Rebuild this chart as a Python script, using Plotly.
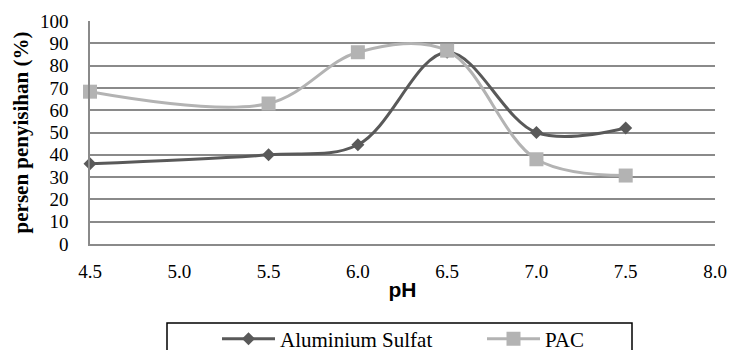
import plotly.graph_objects as go

ph = [4.5, 5.5, 6.0, 6.5, 7.0, 7.5]
aluminium_sulfat = [36, 40, 44.5, 86, 50, 52]
pac = [68.3, 63, 86, 86.7, 38, 30.7]
series_names = ["Aluminium Sulfat", "PAC"]
x_ticks = [4.5, 5.0, 5.5, 6.0, 6.5, 7.0, 7.5, 8.0]
y_ticks = list(range(0, 101, 10))

SERIF = "'Times New Roman', 'Liberation Serif', 'DejaVu Serif', serif"
SANS = "Arial, 'Liberation Sans', sans-serif"

fig = go.Figure()
fig.add_trace(go.Scatter(
    x=ph, y=aluminium_sulfat, name=series_names[0], mode="lines+markers",
    line=dict(color="#595959", width=3, shape="spline", smoothing=1),
    marker=dict(symbol="diamond", size=10, color="#595959"),
    cliponaxis=False, legend="legend",
))
fig.add_trace(go.Scatter(
    x=ph, y=pac, name=series_names[1], mode="lines+markers",
    line=dict(color="#b3b3b3", width=3, shape="spline", smoothing=1),
    marker=dict(symbol="square", size=14, color="#b3b3b3"),
    cliponaxis=False, legend="legend2",
))

grid = "#8a8a8a"
leg_common = dict(
    orientation="h", xref="container", yref="container",
    xanchor="left", yanchor="middle", y=1 - 339 / 350,
    font=dict(family=SERIF, size=21, color="black"),
    bgcolor="rgba(0,0,0,0)", borderwidth=0, itemwidth=53,
)
fig.update_layout(
    width=729, height=350,
    margin=dict(l=90, r=14, t=21, b=106, autoexpand=False),
    paper_bgcolor="white", plot_bgcolor="white",
    font=dict(family=SERIF, size=19, color="black"),
    xaxis=dict(
        range=[4.5, 8.0], tickvals=x_ticks, tickformat=".1f",
        showgrid=False, showline=True, linecolor=grid, linewidth=1.5,
        zeroline=False, ticks="", ticklabelstandoff=9,
        tickfont=dict(family=SERIF, size=19, color="black"),
        title=dict(text="<b>pH</b>", font=dict(family=SANS, size=21, color="black"), standoff=2),
        automargin=False,
    ),
    yaxis=dict(
        range=[0, 100], tickvals=y_ticks,
        showgrid=True, gridcolor=grid, gridwidth=1.5,
        showline=True, linecolor=grid, linewidth=1.5,
        zeroline=False, ticks="", ticklabelstandoff=16,
        tickfont=dict(family=SERIF, size=19, color="black"),
        title=dict(text="<b>persen penyisihan (%)</b>", font=dict(family=SERIF, size=21, color="black"), standoff=6),
        automargin=False,
    ),
    legend=dict(x=217 / 729, **leg_common),
    legend2=dict(x=482 / 729, **leg_common),
    showlegend=True,
)
fig.add_shape(type="rect", xref="paper", yref="paper",
              x0=0.1232, x1=0.8672, y0=-0.3538, y1=-0.55,
              line=dict(color="black", width=1.5), fillcolor="rgba(0,0,0,0)")

fig.write_html("out.html")
